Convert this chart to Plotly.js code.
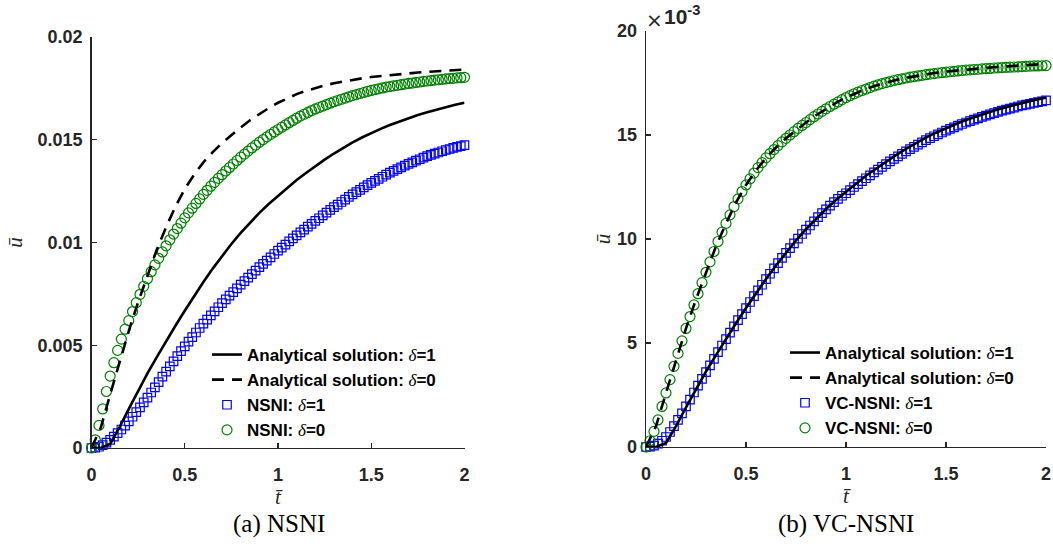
<!DOCTYPE html>
<html><head><meta charset="utf-8">
<script src="https://cdn.plot.ly/plotly-3.0.1.min.js"></script>
<style>html,body{margin:0;padding:0;background:#fff}#chart{width:1053px;height:549px}</style>
</head><body><div id="chart"></div>
<script>
// time grid of the numerical (marker) series
const tNum = [0,0.02,0.04,0.06,0.08,0.1,0.12,0.14,0.16,0.18,0.2,
0.22,0.24,0.26,0.28,0.3,0.32,0.34,0.36,0.38,0.4,
0.42,0.44,0.46,0.48,0.5,0.52,0.54,0.56,0.58,0.6,
0.62,0.64,0.66,0.68,0.7,0.72,0.74,0.76,0.78,0.8,
0.82,0.84,0.86,0.88,0.9,0.92,0.94,0.96,0.98,1.0,
1.02,1.04,1.06,1.08,1.1,1.12,1.14,1.16,1.18,1.2,
1.22,1.24,1.26,1.28,1.3,1.32,1.34,1.36,1.38,1.4,
1.42,1.44,1.46,1.48,1.5,1.52,1.54,1.56,1.58,1.6,
1.62,1.64,1.66,1.68,1.7,1.72,1.74,1.76,1.78,1.8,
1.82,1.84,1.86,1.88,1.9,1.92,1.94,1.96,1.98,2.0];
// time grid of the analytical (line) series
const tLine = [0,0.05,0.1,0.15,0.2,0.25,0.3,0.35,0.4,0.45,0.5,0.55,0.6,0.65,0.7,0.75,0.8,0.85,0.9,0.95,1.0,
1.05,1.1,1.15,1.2,1.25,1.3,1.35,1.4,1.45,1.5,1.55,1.6,1.65,1.7,1.75,1.8,1.85,1.9,1.95,2.0];

// all u values below in units of 1e-3
const analyticalDelta1 = [0,0,0.2,1.0,1.9,2.8,3.63,4.42,5.2,5.95,6.68,7.4,8.08,8.73,9.35,9.93,10.47,10.97,11.44,11.87,12.27,
12.66,13.04,13.38,13.72,14.03,14.33,14.61,14.87,15.11,15.33,15.53,15.72,15.89,16.05,16.2,16.34,16.47,16.59,16.7,16.8];
const analyticalDelta0 = [0,1.0,2.6,4.2,5.7,7.1,8.4,9.65,10.75,11.75,12.6,13.3,13.9,14.4,14.84,15.24,15.6,15.95,16.26,16.54,16.8,
17.03,17.22,17.38,17.52,17.64,17.75,17.84,17.92,17.99,18.05,18.1,18.15,18.19,18.23,18.27,18.3,18.33,18.36,18.39,18.42];

const nsniDelta1 = [0,0.02,0.06,0.14,0.26,0.4,0.55,0.72,0.9,1.09,1.3,
1.52,1.75,1.98,2.22,2.45,2.7,2.95,3.21,3.47,3.72,
3.97,4.22,4.47,4.71,4.95,5.18,5.4,5.62,5.84,6.05,
6.25,6.45,6.65,6.85,7.05,7.23,7.41,7.59,7.77,7.95,
8.12,8.29,8.46,8.63,8.8,8.96,9.12,9.28,9.44,9.6,
9.75,9.9,10.05,10.2,10.35,10.49,10.63,10.77,10.91,11.05,
11.18,11.32,11.45,11.59,11.72,11.84,11.97,12.09,12.22,12.34,
12.45,12.56,12.68,12.79,12.9,13.0,13.1,13.2,13.3,13.4,
13.49,13.57,13.66,13.74,13.83,13.9,13.98,14.05,14.13,14.2,
14.26,14.32,14.38,14.44,14.5,14.55,14.6,14.65,14.69,14.74];
const nsniDelta0 = [0,0.4,1.1,1.9,2.75,3.5,4.15,4.75,5.3,5.78,6.2,
6.64,7.07,7.48,7.87,8.24,8.58,8.91,9.23,9.54,9.84,
10.13,10.41,10.68,10.94,11.2,11.44,11.67,11.9,12.12,12.34,
12.54,12.74,12.93,13.12,13.3,13.48,13.65,13.82,13.99,14.15,
14.3,14.45,14.6,14.74,14.88,15.01,15.14,15.26,15.38,15.5,
15.61,15.72,15.83,15.94,16.05,16.15,16.24,16.33,16.42,16.5,
16.57,16.64,16.71,16.78,16.85,16.91,16.97,17.03,17.09,17.15,
17.2,17.25,17.3,17.35,17.4,17.44,17.48,17.52,17.56,17.59,
17.62,17.65,17.68,17.71,17.74,17.76,17.79,17.81,17.84,17.86,
17.88,17.9,17.92,17.94,17.96,17.98,17.99,18.01,18.02,18.04];

const vcnsniDelta1 = [0,0.02,0.07,0.16,0.3,0.48,0.72,1.0,1.3,1.62,1.95,
2.28,2.62,2.95,3.28,3.6,3.92,4.24,4.56,4.88,5.19,
5.5,5.8,6.1,6.39,6.68,6.97,7.25,7.53,7.8,8.07,
8.33,8.59,8.84,9.09,9.33,9.56,9.79,10.02,10.24,10.45,
10.65,10.85,11.05,11.24,11.42,11.6,11.77,11.93,12.08,12.2,
12.35,12.5,12.64,12.78,12.92,13.06,13.2,13.34,13.47,13.6,
13.73,13.85,13.97,14.09,14.21,14.32,14.43,14.54,14.65,14.75,
14.85,14.94,15.03,15.12,15.21,15.29,15.37,15.45,15.53,15.6,
15.67,15.74,15.8,15.87,15.93,15.99,16.05,16.11,16.17,16.22,
16.27,16.32,16.37,16.42,16.46,16.5,16.54,16.58,16.62,16.66];
const vcnsniDelta0 = [0,0.3,0.75,1.3,1.95,2.6,3.24,3.88,4.5,5.1,5.7,
6.27,6.83,7.37,7.9,8.4,8.9,9.4,9.88,10.33,10.75,
11.16,11.56,11.93,12.28,12.6,12.89,13.17,13.43,13.67,13.9,
14.1,14.3,14.49,14.67,14.84,15.0,15.16,15.32,15.46,15.6,
15.74,15.88,16.01,16.14,16.26,16.37,16.48,16.59,16.7,16.8,
16.89,16.98,17.06,17.14,17.21,17.28,17.35,17.41,17.47,17.52,
17.57,17.62,17.66,17.7,17.74,17.78,17.81,17.84,17.87,17.9,
17.93,17.95,17.98,18.0,18.02,18.04,18.06,18.08,18.1,18.12,
18.13,18.15,18.16,18.18,18.19,18.2,18.22,18.23,18.24,18.25,
18.26,18.27,18.28,18.29,18.3,18.31,18.32,18.32,18.33,18.34];

const xTickVals = [0,0.5,1,1.5,2];
const xTickText = ['0','0.5','1','1.5','2'];
const yTickValsA = [0,0.005,0.01,0.015,0.02];
const yTickTextA = ['0','0.005','0.01','0.015','0.02'];
const yTickValsB = [0,5,10,15,20];
const yTickTextB = ['0','5','10','15','20'];
const captionA = '(a) NSNI';
const captionB = '(b) VC-NSNI';
const exponentTimes = '×';
const exponentBase = '10<sup>-3</sup>';

const delta = v => `<span style="font-family:'Liberation Serif',serif;font-style:italic;font-weight:normal">δ</span>=${v}`;
const namesA = ['Analytical solution: ' + delta(1), 'Analytical solution: ' + delta(0), 'NSNI: ' + delta(1), 'NSNI: ' + delta(0)];
const namesB = ['Analytical solution: ' + delta(1), 'Analytical solution: ' + delta(0), 'VC-NSNI: ' + delta(1), 'VC-NSNI: ' + delta(0)];

const milli = arr => arr.map(v => v * 1e-3);

const squareMarker = {symbol:'square-open', size:8.5, color:'#0000ff', line:{width:1.2, color:'#0000ff'}};
const circleMarker = {symbol:'circle-open', size:10, color:'#008000', line:{width:1.2, color:'#008000'}};
const solidLine = {color:'#000000', width:2.6};
const dashLine = {color:'#000000', width:2.6, dash:'12px,8px'};

function panel(xa, ya, leg, names, d1, d0, scale) {
  return [
    {x:tNum, y:scale(d1), type:'scatter', mode:'markers', marker:squareMarker, name:names[2], xaxis:xa, yaxis:ya, legend:leg, legendrank:3, cliponaxis:false},
    {x:tNum, y:scale(d0), type:'scatter', mode:'markers', marker:circleMarker, name:names[3], xaxis:xa, yaxis:ya, legend:leg, legendrank:4, cliponaxis:false},
    {x:tLine, y:scale(analyticalDelta1), type:'scatter', mode:'lines', line:solidLine, name:names[0], xaxis:xa, yaxis:ya, legend:leg, legendrank:1, cliponaxis:false},
    {x:tLine, y:scale(analyticalDelta0), type:'scatter', mode:'lines', line:dashLine, name:names[1], xaxis:xa, yaxis:ya, legend:leg, legendrank:2, cliponaxis:false}
  ];
}

const traces = [
  ...panel('x', 'y', 'legend', namesA, nsniDelta1, nsniDelta0, milli),
  ...panel('x2', 'y2', 'legend2', namesB, vcnsniDelta1, vcnsniDelta0, a => a)
];

const W = 1053, H = 549;
const tickFont = {family:'Liberation Sans, Arial, sans-serif', size:18, color:'#262626', weight:'bold'};
const axisBase = {showline:true, linecolor:'#262626', linewidth:1.3, ticks:'inside', ticklen:5, tickwidth:1.3,
  tickcolor:'#262626', showgrid:false, zeroline:false, mirror:false, tickfont:tickFont, fixedrange:true, automargin:false};
const titleFont = {family:'Liberation Serif, serif', size:21, style:'italic', color:'#262626'};
const xTitle = {text:'t\u0304', font:titleFont, standoff:2};
const yTitleA = {text:'\u016B', font:titleFont, standoff:9};
const yTitleB = {text:'\u016B', font:titleFont, standoff:0};
const legendFont = {family:'Liberation Sans, Arial, sans-serif', size:17, color:'#000', weight:'bold'};

const layout = {
  width:W, height:H, margin:{l:0, r:0, t:0, b:0},
  paper_bgcolor:'#ffffff', plot_bgcolor:'rgba(0,0,0,0)',
  showlegend:true,
  xaxis:Object.assign({}, axisBase, {domain:[91.5/W, 464.5/W], range:[0,2], anchor:'y', tickvals:xTickVals, ticktext:xTickText, title:xTitle, ticklabelstandoff:10}),
  yaxis:Object.assign({}, axisBase, {domain:[1-448/H, 1-37/H], range:[0,0.02], anchor:'x', tickvals:yTickValsA, ticktext:yTickTextA, title:yTitleA, ticklabelstandoff:4}),
  xaxis2:Object.assign({}, axisBase, {domain:[646/W, 1046/W], range:[0,2], anchor:'y2', tickvals:xTickVals, ticktext:xTickText, title:xTitle, ticklabelstandoff:10}),
  yaxis2:Object.assign({}, axisBase, {domain:[1-447/H, 1-31/H], range:[0,20], anchor:'x2', tickvals:yTickValsB, ticktext:yTickTextB, title:yTitleB, ticklabelstandoff:4}),
  legend:{x:207/W, y:1-337/H, xanchor:'left', yanchor:'top', bgcolor:'rgba(0,0,0,0)', borderwidth:0, font:legendFont, tracegroupgap:0, itemwidth:30},
  legend2:{x:785/W, y:1-335/H, xanchor:'left', yanchor:'top', bgcolor:'rgba(0,0,0,0)', borderwidth:0, font:legendFont, tracegroupgap:0, itemwidth:30},
  annotations:[
    {xref:'paper', yref:'paper', x:279/W, y:1-524/H, text:captionA, showarrow:false, xanchor:'center', yanchor:'middle', font:{family:'Liberation Serif, serif', size:25, color:'#000'}},
    {xref:'paper', yref:'paper', x:846/W, y:1-524/H, text:captionB, showarrow:false, xanchor:'center', yanchor:'middle', font:{family:'Liberation Serif, serif', size:25, color:'#000'}},
    {xref:'paper', yref:'paper', x:654/W, y:1-20/H, text:exponentTimes, showarrow:false, xanchor:'center', yanchor:'middle', font:{family:'DejaVu Sans, sans-serif', size:20, color:'#262626'}},
    {xref:'paper', yref:'paper', x:662/W, y:1-15/H, text:exponentBase, showarrow:false, xanchor:'left', yanchor:'middle', font:{family:'Liberation Sans, Arial, sans-serif', size:21, color:'#262626', weight:'bold'}}
  ]
};

Plotly.newPlot('chart', traces, layout, {displayModeBar:false, staticPlot:true});
</script>
</body></html>
